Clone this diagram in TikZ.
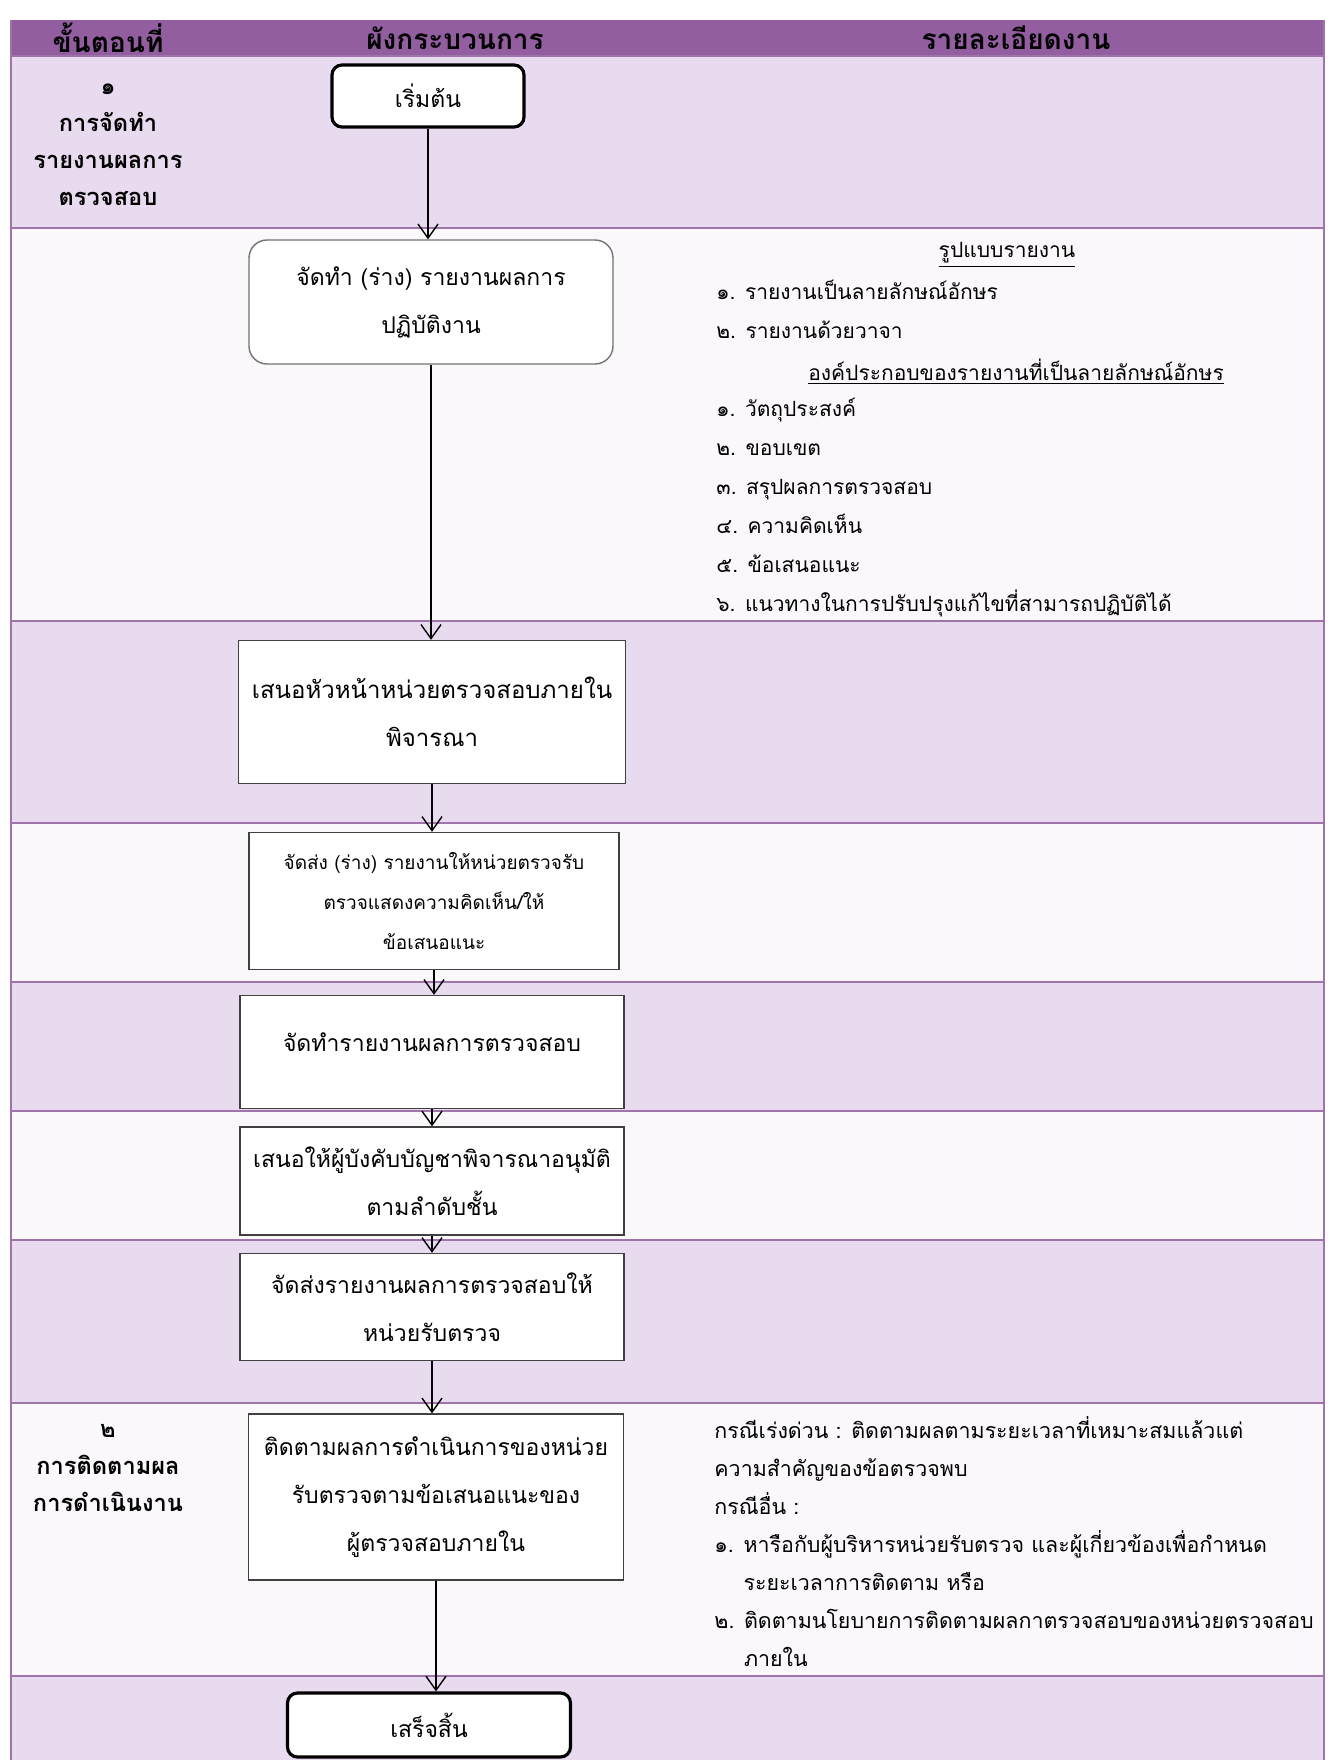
\documentclass[tikz,border=0pt]{standalone}
\usepackage{fontspec}
\newfontfamily\thaifont[Script=Thai]{Loma}
\usetikzlibrary{arrows.meta,positioning}
\definecolor{hdrpurple}{RGB}{146,94,160}
\definecolor{rowlav}{RGB}{233,219,239}
\definecolor{rowpale}{RGB}{251,248,252}
\definecolor{rowline}{RGB}{158,116,170}
\tikzset{
  hd/.style={font=\thaifont\bfseries\fontsize{14}{16}\selectfont, text=black},
  stepno/.style={font=\thaifont\bfseries\fontsize{11.8}{18.5}\selectfont, align=center},
  proc/.style={draw=black!75, fill=white, line width=0.7pt, align=center, inner sep=2pt, font=\thaifont\fontsize{11.5}{24}\selectfont},
  term/.style={proc, line width=1.6pt, draw=black, rounded corners=5pt},
  note/.style={font=\thaifont\fontsize{10.5}{19.5}\selectfont, align=left, inner sep=0pt},
  flow/.style={-{Straight Barb[length=7pt,width=10pt]}, line width=0.7pt}
}
\begin{document}
\begin{tikzpicture}[x=0.5pt, y=-0.5pt]
\useasboundingbox (0,0) rectangle (1330,1760);
% table background
\fill[hdrpurple] (11,20) rectangle (1324,56);
\fill[rowlav]  (11,56) rectangle (1324,228);
\fill[rowpale] (11,228) rectangle (1324,621);
\fill[rowlav]  (11,621) rectangle (1324,823);
\fill[rowpale] (11,823) rectangle (1324,982);
\fill[rowlav]  (11,982) rectangle (1324,1111);
\fill[rowpale] (11,1111) rectangle (1324,1240);
\fill[rowlav]  (11,1240) rectangle (1324,1403);
\fill[rowpale] (11,1403) rectangle (1324,1676);
\fill[rowlav]  (11,1676) rectangle (1324,1760);
\draw[rowline, line width=1.2pt] (11,56) -- (1324,56) (11,228) -- (1324,228)
  (11,621) -- (1324,621) (11,823) -- (1324,823) (11,982) -- (1324,982)
  (11,1111) -- (1324,1111) (11,1240) -- (1324,1240) (11,1403) -- (1324,1403)
  (11,1676) -- (1324,1676);
\draw[rowline, line width=1pt] (11,20) -- (11,1760) (1324,20) -- (1324,1760);

% header
\node[hd] (hstep) at (108,38) {ขั้นตอนที่};
\node[hd] (hflow) at (455,38) {ผังกระบวนการ};
\node[hd] (hdetail) at (1016,38) {รายละเอียดงาน};

% steps
\node[stepno] (step1) at (108,145) {๑\\การจัดทำ\\รายงานผลการ\\ตรวจสอบ};
\node[stepno] (step2) at (108,1468) {๒\\การติดตามผล\\การดำเนินงาน};

% flow chart
\node[term, minimum width=96pt, minimum height=31pt] (start) at (428,96) {เริ่มต้น};
\node[proc, rounded corners=9pt, draw=black!55, minimum width=182pt, minimum height=62pt] (draft) at (431,302) {จัดทำ (ร่าง) รายงานผลการ\\ปฏิบัติงาน};
\node[proc, minimum width=193.5pt, minimum height=71.5pt, font=\thaifont\fontsize{12}{24}\selectfont] (propose) at (432,712) {เสนอหัวหน้าหน่วยตรวจสอบภายใน\\พิจารณา};
\node[proc, minimum width=185pt, minimum height=68.5pt, font=\thaifont\fontsize{9.5}{20}\selectfont] (senddraft) at (434,901) {จัดส่ง (ร่าง) รายงานให้หน่วยตรวจรับ\\ตรวจแสดงความคิดเห็น/ให้\\ข้อเสนอแนะ};
\node[proc, minimum width=192pt, minimum height=56.5pt] (report) at (432,1052) {\raisebox{10pt}{จัดทำรายงานผลการตรวจสอบ}};
\node[proc, minimum width=192pt, minimum height=54pt] (approve) at (432,1181) {เสนอให้ผู้บังคับบัญชาพิจารณาอนุมัติ\\ตามลำดับชั้น};
\node[proc, minimum width=192pt, minimum height=53.5pt] (sendrep) at (432,1307) {จัดส่งรายงานผลการตรวจสอบให้\\หน่วยรับตรวจ};
\node[proc, minimum width=187.5pt, minimum height=83pt] (follow) at (436,1497) {ติดตามผลการดำเนินการของหน่วย\\รับตรวจตามข้อเสนอแนะของ\\ผู้ตรวจสอบภายใน};
\node[term, minimum width=141.5pt, minimum height=32pt] (finish) at (429,1725) {เสร็จสิ้น};

\draw[flow] (start.south) -- (start.south |- draft.north);
\draw[flow] (draft.south) -- (draft.south |- propose.north);
\draw[flow] (propose.south) -- (propose.south |- senddraft.north);
\draw[flow] (senddraft.south) -- (senddraft.south |- report.north);
\draw[flow] (report.south) -- (report.south |- approve.north);
\draw[flow] (approve.south) -- (approve.south |- sendrep.north);
\draw[flow] (sendrep.south) -- (sendrep.south |- follow.north);
\draw[flow] (follow.south) -- (follow.south |- finish.north);

% details
\node[note] (fmthead) at (1007,255) {\underline{รูปแบบรายงาน}};
\node[note, anchor=north west] (fmtlist) at (716,280) {๑. รายงานเป็นลายลักษณ์อักษร\\๒. รายงานด้วยวาจา};
\node[note] (parthead) at (1016,372) {\underline{องค์ประกอบของรายงานที่เป็นลายลักษณ์อักษร}};
\node[note, anchor=north west] (partlist) at (716,398) {๑. วัตถุประสงค์\\๒. ขอบเขต\\๓. สรุปผลการตรวจสอบ\\๔. ความคิดเห็น\\๕. ข้อเสนอแนะ\\๖. แนวทางในการปรับปรุงแก้ไขที่สามารถปฏิบัติได้};
\node[note, anchor=north west, font=\thaifont\fontsize{10.7}{19}\selectfont] (followinfo) at (714,1416) {กรณีเร่งด่วน : ติดตามผลตามระยะเวลาที่เหมาะสมแล้วแต่\\ความสำคัญของข้อตรวจพบ\\กรณีอื่น :\\๑. หารือกับผู้บริหารหน่วยรับตรวจ และผู้เกี่ยวข้องเพื่อกำหนด\\\phantom{๑. }ระยะเวลาการติดตาม หรือ\\๒. ติดตามนโยบายการติดตามผลกาตรวจสอบของหน่วยตรวจสอบ\\\phantom{๒. }ภายใน};
\end{tikzpicture}
\end{document}
